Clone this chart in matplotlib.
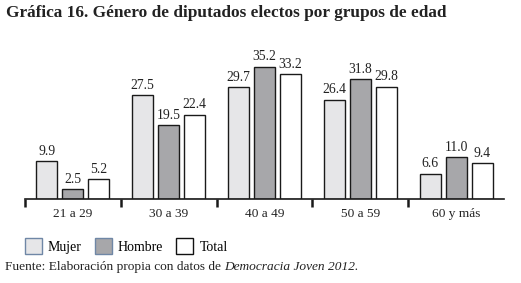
import matplotlib.pyplot as plt
import numpy as np

groups = ['21 a 29', '30 a 39', '40 a 49', '50 a 59', '60 y más']
mujer = [9.9, 27.5, 29.7, 26.4, 6.6]
hombre = [2.5, 19.5, 35.2, 31.8, 11.0]
total = [5.2, 22.4, 33.2, 29.8, 9.4]
series_names = ['Mujer', 'Hombre', 'Total']
fills = ['#e6e6e8', '#a7a7aa', '#ffffff']
legend_edges = ['#6f87a6', '#6f87a6', '#111111']

plt.rcParams['font.family'] = ['Liberation Serif', 'DejaVu Serif']

fig = plt.figure(figsize=(5.21, 2.83), dpi=100)
ax = fig.add_axes([25 / 521, 84.5 / 283, 479 / 521, 150 / 283])

x = np.arange(len(groups))
step = 0.272
width = 0.22
for k, vals in enumerate([mujer, hombre, total]):
    pos = x + (k - 1) * step
    ax.bar(pos, vals, width, color=fills[k], edgecolor='#1a1a1a',
           linewidth=1.0, label=series_names[k], zorder=2)
    for p, v in zip(pos, vals):
        ax.annotate(f'{v:.1f}', (p, v), xytext=(0, 2.5), textcoords='offset points',
                    ha='center', va='bottom', fontsize=9.8, color='#222222')

ax.set_xlim(-0.5, 4.5)
ax.set_ylim(0, 40)
for s in ['top', 'right', 'left']:
    ax.spines[s].set_visible(False)
ax.spines['bottom'].set_linewidth(1.2)
ax.spines['bottom'].set_color('#1a1a1a')
ax.set_yticks([])
ax.set_xticks(x)
ax.set_xticklabels(groups, fontsize=9.6, color='#222222')
ax.tick_params(axis='x', which='major', length=0, pad=7)
ax.set_xticks(np.arange(-0.5, 4.0, 1.0), minor=True)
ax.tick_params(axis='x', which='minor', length=6, width=1.8, color='#1a1a1a')

# legend
handles = [plt.Rectangle((0, 0), 1, 1, facecolor=fills[k], edgecolor=legend_edges[k], linewidth=1.0)
           for k in range(3)]
fig.legend(handles, series_names, loc='upper left', bbox_to_anchor=(25 / 521, 1 - 238 / 283),
           ncol=3, frameon=False, fontsize=10, handlelength=1.22, handleheight=1.4,
           handletextpad=0.43, columnspacing=0.95, borderaxespad=0, borderpad=0)

fig.text(6 / 521, 1 - 13 / 283, 'Gráfica 16. Género de diputados electos por grupos de edad',
         fontsize=12.4, fontweight='bold', ha='left', va='center', color='#222222')
src = fig.text(5 / 521, 1 - 267 / 283, 'Fuente: Elaboración propia con datos de ',
               fontsize=9.6, ha='left', va='center', color='#222222')
ax.annotate('Democracia Joven 2012.', xy=(1, 0), xycoords=src, va='bottom', ha='left',
            fontsize=9.6, style='italic', color='#222222')

fig.savefig('out.png', dpi=100)
